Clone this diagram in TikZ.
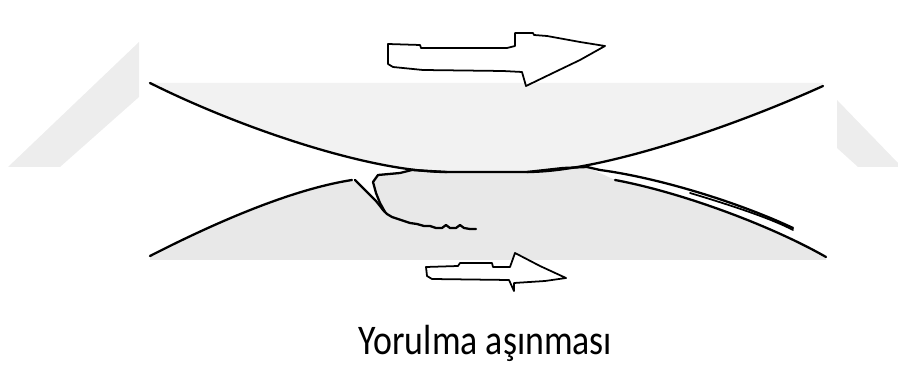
\documentclass[tikz,border=0pt]{standalone}
\usepackage{fontspec}
\setmainfont{Carlito}
\begin{document}
\begin{tikzpicture}[x=0.02cm, y=-0.02cm, line join=round, line cap=round,
	surface/.style={line width=1.3pt},
	motion/.style={line width=1pt, fill=white},
	backdrop/.style={fill=black!7},
	body top/.style={fill=black!5},
	body low/.style={fill=black!9}]
	\useasboundingbox (0,0) rectangle (898,367);
	\fill[backdrop] (8,167) -- (60,167) -- (139,97) -- (139,42) -- cycle;
	\fill[backdrop] (837,100) -- (898,163) -- (898,167) -- (858,167) -- (837,148) -- cycle;
	\fill[body top] (150,83) .. controls (240,128) and (370,172) .. (447,172) -- (527,172) .. controls (600,172) and (730,128) .. (823,86) -- (823,83) -- cycle;
	\fill[body low] (150,256) .. controls (230,215) and (300,188) .. (352,180)
		-- (362,187) -- (376,201) -- (385,212) -- (380,203) -- (376,193) -- (373,182) -- (378,175) -- (400,173) -- (412,170) -- (447,172) -- (527,172) -- (563,168) -- (587,167) -- (615,180)
		.. controls (680,192) and (770,225) .. (826,257) -- (826,260) -- (150,260) -- cycle;
	\draw[surface] (150,83) .. controls (240,128) and (370,172) .. (447,172) -- (527,172) .. controls (600,172) and (730,128) .. (823,86);
	\draw[surface] (150,256) .. controls (230,215) and (300,188) .. (352,180);
	\draw[surface] (355,180) -- (362,187) -- (370,195) -- (376,201) -- (380,206) -- (383,210) -- (387,214) -- (392,217) -- (398,219) -- (404,221) -- (410,223) -- (417,224) -- (424,226) -- (430,226) -- (436,228) -- (442,228) -- (446,225) -- (450,228) -- (456,228) -- (460,225) -- (464,228) -- (470,229) -- (476,229);
	\draw[surface] (447,172) -- (412,170) -- (400,173) -- (378,175) -- (373,182) -- (376,193) -- (380,203) -- (385,212);
	\draw[surface] (527,172) -- (563,168) -- (587,167) -- (600,170) .. controls (660,178) and (740,203) .. (793,228);
	\draw[line width=1pt] (690,193) .. controls (730,205) and (770,218) .. (793,230);
	\draw[surface] (615,180) .. controls (680,192) and (770,225) .. (826,257);
	\draw[motion] (388,44) -- (420,45) -- (421,48) -- (507,48) -- (515,46) -- (515,33) -- (533,33) -- (534,35) -- (547,36) -- (580,42) -- (605,46) -- (580,60) -- (555,72) -- (526,86) -- (522,72) -- (503,71) -- (423,70) -- (393,67) -- (388,64) -- cycle;
	\draw[motion] (426,267) -- (458,266) -- (460,263) -- (492,263) -- (493,267) -- (510,267) -- (515,253) -- (540,266) -- (566,278) -- (545,281) -- (514,283) -- (514,291) -- (509,280) -- (432,279) -- (427,276) -- cycle;
	\node[anchor=base, inner sep=0pt] (caption) at (485.5,355) {\scalebox{0.85}[1]{\fontsize{24}{28}\selectfont Yorulma aşınması}};
\end{tikzpicture}
\end{document}
